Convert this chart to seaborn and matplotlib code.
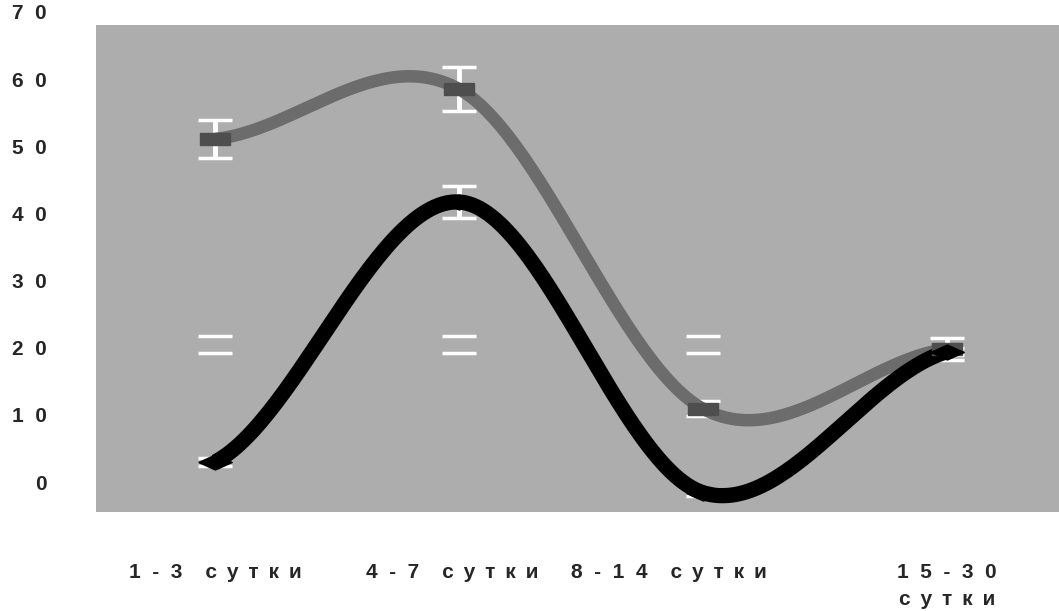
"""
Smoothed two-series chart with white error bars on a grey panel
"""
import numpy as np
import pandas as pd
import matplotlib
matplotlib.use("Agg")
import matplotlib.pyplot as plt
import seaborn as sns

# categories (letter-spaced as in the source picture)
SUTKI = "с \u2009у \u2009т \u2009к \u2009и"
periods = ["1  -  3    " + SUTKI, "4  -  7    " + SUTKI,
           "8  -  1  4    " + SUTKI, "1  5  -  3  0\n" + SUTKI]

# grey series
grey_vals = [51.4, 58.8, 11.2, 20.1]
grey_err = [2.8, 3.3, 1.1, 1.6]

# black series
black_vals = [3.3, 42.0, -1.3, 19.7]
black_err = [0.6, 2.4, 0.5, 0.5]

# stray white error caps (series without a visible line)
hidden_vals = [20.8, 20.8, 20.8]
hidden_err = [1.3, 1.3, 1.3]

y_ticks = [0, 10, 20, 30, 40, 50, 60, 70]
y_tick_labels = ["0", "1  0", "2  0", "3  0", "4  0", "5  0", "6  0", "7  0"]


def smooth(y, n=60):
    """Catmull-Rom curve through the points (like Excel's smoothed line)"""
    y = np.asarray(y, dtype=float)
    pts = np.concatenate([[y[0]], y, [y[-1]]])
    xs, ys = [], []
    for i in range(len(y) - 1):
        p0, p1, p2, p3 = pts[i], pts[i + 1], pts[i + 2], pts[i + 3]
        m0 = (p2 - p0) / 2
        m1 = (p3 - p1) / 2
        t = np.linspace(0, 1, n, endpoint=(i == len(y) - 2))
        h00 = 2 * t**3 - 3 * t**2 + 1
        h10 = t**3 - 2 * t**2 + t
        h01 = -2 * t**3 + 3 * t**2
        h11 = t**3 - t**2
        xs.append(i + t)
        ys.append(h00 * p1 + h10 * m0 + h01 * p2 + h11 * m1)
    return np.concatenate(xs), np.concatenate(ys)


sns.set_style("white")
plt.rcParams['font.family'] = ['Liberation Sans', 'DejaVu Sans']

fig = plt.figure(figsize=(10.59, 6.11), dpi=100)
ax = fig.add_axes([96 / 1059, 1 - 512 / 611, 963 / 1059, 487 / 611])
ax.set_facecolor("#adadad")

x = np.arange(len(periods))

# white error bars under the lines
ax.errorbar(x, grey_vals, yerr=grey_err, fmt="none", ecolor="white",
            elinewidth=3.5, capsize=12, capthick=2.5, zorder=2)
ax.errorbar(x, black_vals, yerr=black_err, fmt="none", ecolor="white",
            elinewidth=3.5, capsize=12, capthick=2.5, zorder=2)
ax.errorbar(x[:3], hidden_vals, yerr=hidden_err, fmt="none", ecolor="white",
            elinewidth=0, capsize=12, capthick=2.5, zorder=2)

# smoothed lines
gx, gy = smooth(grey_vals)
bx, by = smooth(black_vals)
sns.lineplot(x=gx, y=gy, ax=ax, color="#6c6c6c", linewidth=9,
             solid_capstyle="butt", zorder=3, sort=False)
sns.lineplot(x=bx, y=by, ax=ax, color="black", linewidth=11,
             solid_capstyle="butt", zorder=4, sort=False)

# markers
rect = [(-1, -0.4), (1, -0.4), (1, 0.4), (-1, 0.4), (-1, -0.4)]
diamond = [(-1, 0), (0, 0.45), (1, 0), (0, -0.45), (-1, 0)]
df = pd.DataFrame({"x": x, "grey": grey_vals, "black": black_vals})
ax.plot(df.x, df.grey, linestyle="none", marker=rect, markersize=22,
        color="#4e4e4e", zorder=5)
ax.plot(df.x, df.black, linestyle="none", marker=diamond, markersize=24,
        color="black", zorder=6)

ax.set_xlim(-0.49, 3.46)
ax.set_ylim(-4.17, 68.36)

# x labels, written as text so they can sit a little off the points
ax.set_xticks([])
label_shift = [0.0, -0.03, -0.14, 0.0]
for xi, lab, dx in zip(x, periods, label_shift):
    ax.text(xi + dx, -0.105, lab, transform=ax.get_xaxis_transform(),
            ha="center", va="top", fontsize=15, fontweight="bold",
            linespacing=1.5, clip_on=False)

# y labels (70 sits above the panel, so written as text)
ax.set_yticks([])
for v, lab in zip(y_ticks, y_tick_labels):
    ax.text(-0.051, v, lab, transform=ax.get_yaxis_transform(),
            ha="right", va="center", fontsize=15, fontweight="bold",
            clip_on=False)

for s in ax.spines.values():
    s.set_visible(False)

fig.savefig("out.png", dpi=100)
